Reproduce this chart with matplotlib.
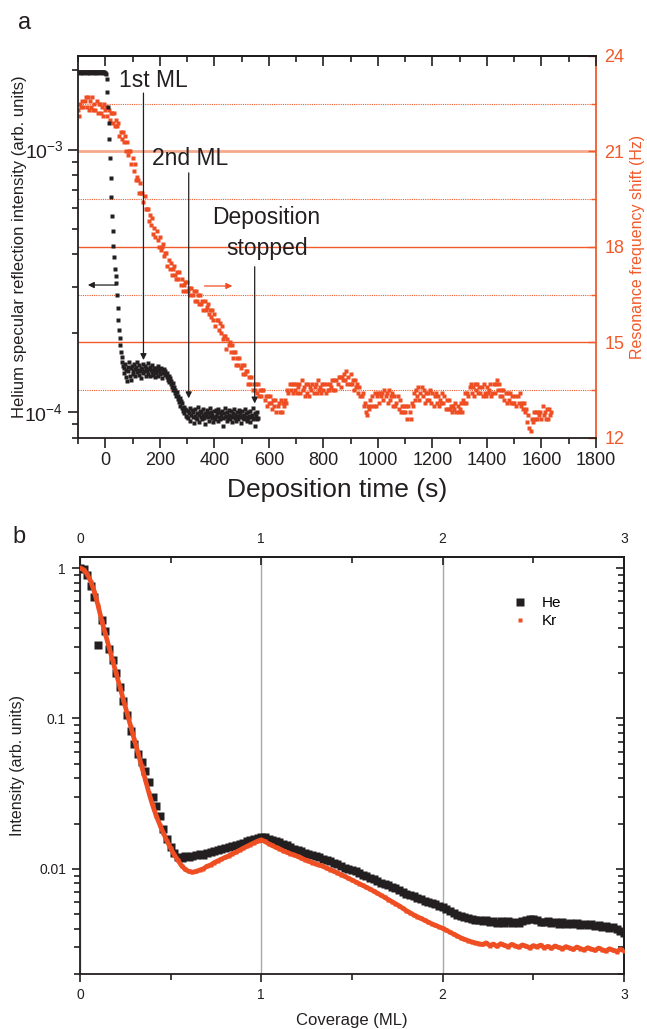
import numpy as np
import matplotlib
matplotlib.use("Agg")
import matplotlib.pyplot as plt
from matplotlib.ticker import FixedLocator, MultipleLocator, LogLocator, NullFormatter
from matplotlib.lines import Line2D

plt.rcParams['font.family'] = ['Liberation Sans', 'DejaVu Sans']
plt.rcParams['mathtext.fontset'] = 'custom'
plt.rcParams['mathtext.rm'] = 'Liberation Sans'
plt.rcParams['mathtext.it'] = 'Liberation Sans:italic'

INK = '#231F20'
ORANGE = '#EF4E22'
AX_ORANGE = '#F15A2B'

# ---- panel a: He reflection (left axis) and QCM shift (right axis) ----
he_time = np.arange(-100, 560.1, 2.5)      # s, one reading every 2.5 s
he_refl = np.array([
    # before deposition
    19.7, 19.8, 19.7, 19.6, 19.7, 19.8, 19.7, 19.7, 19.6, 19.7,
    19.8, 19.7, 19.7, 19.6, 19.7, 19.8, 19.7, 19.6, 19.7, 19.7,
    19.7, 19.8, 19.7, 19.6, 19.7, 19.7, 19.8, 19.7, 19.6, 19.7,
    19.7, 19.8, 19.7, 19.7, 19.6, 19.7, 19.8, 19.7, 19.7, 19.6,
    # fast drop, 0 .. 65 s
    19.6, 19.4, 18.5, 16.5, 14.5, 12.6, 11.0, 9.3, 7.8, 6.6,
    5.6, 4.9, 4.3, 3.9, 3.5, 3.3, 3.1, 2.8, 2.5, 2.25,
    2.05, 1.92, 1.80, 1.70, 1.62, 1.55, 1.50,
    # first-layer plateau
    1.48, 1.41, 1.52, 1.36, 1.45, 1.31, 1.49, 1.43, 1.55, 1.38,
    1.47, 1.33, 1.50, 1.44, 1.40, 1.53, 1.46, 1.37, 1.49, 1.42,
    1.56, 1.45, 1.39, 1.51, 1.43, 1.48, 1.35, 1.46, 1.52, 1.41,
    1.44, 1.50, 1.38, 1.47, 1.43, 1.54, 1.40, 1.46, 1.49, 1.37,
    1.45, 1.42, 1.51, 1.39, 1.47, 1.44, 1.36, 1.48, 1.41, 1.45,
    1.50, 1.38, 1.43, 1.46, 1.40, 1.47, 1.35, 1.44, 1.41, 1.46,
    1.39, 1.43,
    # second drop
    1.40, 1.36, 1.41, 1.33, 1.37, 1.30, 1.35, 1.28, 1.31, 1.25,
    1.29, 1.22, 1.25, 1.18, 1.22, 1.15, 1.19, 1.12, 1.15, 1.09,
    1.13, 1.06, 1.10, 1.04, 1.08, 1.01, 1.05, 0.99, 1.03, 0.97,
    1.02, 0.96,
    # second-layer plateau
    1.01, 0.95, 0.99, 1.04, 0.93, 0.98, 1.02, 0.96, 1.00, 0.91,
    0.97, 1.03, 0.95, 0.99, 0.94, 1.05, 0.98, 0.92, 1.01, 0.96,
    1.00, 0.94, 0.98, 1.03, 0.95, 0.99, 0.90, 0.97, 1.02, 0.96,
    0.99, 0.93, 1.04, 0.97, 1.00, 0.95, 0.98, 0.92, 1.01, 0.96,
    0.94, 1.02, 0.97, 0.99, 0.93, 1.03, 0.96, 1.00, 0.94, 0.98,
    1.01, 0.95, 0.89, 0.99, 0.96, 1.04, 0.97, 0.93, 1.00, 0.95,
    0.98, 1.02, 0.94, 0.97, 1.01, 0.92, 0.99, 0.96, 1.03, 0.95,
    0.98, 0.93, 1.00, 0.97, 0.94, 1.02, 0.96, 0.99, 0.91, 0.97,
    1.01, 0.95, 0.98, 0.94, 1.03, 0.96, 0.99, 0.93, 1.00, 0.95,
    0.97, 0.92, 1.01, 0.96, 0.98, 0.94, 1.04, 0.95, 0.99, 0.89,
    0.97, 0.94, 1.00, 0.95,
]) * 1e-4

qcm_time = np.arange(-100, 1637, 4)        # s, one reading every 4 s
qcm_shift = [
    22.3, 22.1, 22.5, 22.4, 22.6, 22.4, 22.6, 22.7, 22.4, 22.7,
    22.3, 22.6, 22.4, 22.7, 22.3, 22.5, 22.3, 22.6, 22.2, 22.5,
    22.5, 22.2, 22.4, 22.1, 22.5, 22.3, 22.4, 22.1, 22.3, 22.0,
    22.2, 22.2, 21.9, 22.2, 21.8, 22.0, 21.8, 21.9, 21.5, 21.6,
    21.4, 21.6, 21.3, 21.5, 21.0, 21.3, 20.9, 21.0, 21.0, 20.6,
    20.8, 20.4, 20.6, 20.1, 20.2, 20.1, 19.7, 20.0, 19.7, 19.7,
    19.4, 19.6, 19.2, 19.2, 19.2, 18.8, 19.0, 18.7, 18.9, 18.4,
    18.6, 18.3, 18.5, 18.2, 18.0, 18.3, 17.9, 18.0, 18.1, 17.7,
    17.8, 17.8, 17.4, 17.6, 17.3, 17.5, 17.1, 17.3, 17.4, 17.1,
    17.0, 17.2, 17.0, 17.2, 16.8, 17.0, 16.6, 16.8, 16.9, 16.6,
    16.9, 16.6, 16.7, 16.5, 16.7, 16.5, 16.6, 16.3, 16.6, 16.3,
    16.5, 16.2, 16.5, 16.2, 16.3, 16.0, 16.3, 16.0, 16.1, 16.2,
    15.9, 16.0, 15.8, 16.0, 15.7, 15.9, 15.5, 15.7, 15.7, 15.4,
    15.6, 15.3, 15.5, 15.1, 15.2, 15.2, 14.8, 15.1, 14.9, 15.0,
    14.7, 14.9, 14.5, 14.7, 14.7, 14.3, 14.5, 14.3, 14.5, 14.2,
    14.3, 14.0, 14.3, 14.0, 14.1, 14.1, 13.7, 13.9, 13.7, 13.9,
    13.5, 13.7, 13.5, 13.7, 13.4, 13.7, 13.3, 13.5, 13.3, 13.5,
    13.5, 13.2, 13.3, 13.0, 13.3, 13.1, 13.3, 13.1, 12.9, 13.2,
    13.0, 13.2, 12.8, 13.0, 13.1, 12.8, 13.2, 12.8, 13.1, 13.0,
    13.2, 13.1, 13.5, 13.4, 13.7, 13.5, 13.7, 13.4, 13.7, 13.5,
    13.7, 13.4, 13.6, 13.7, 13.4, 13.8, 13.5, 13.6, 13.3, 13.7,
    13.4, 13.7, 13.3, 13.6, 13.5, 13.7, 13.4, 13.6, 13.7, 13.4,
    13.8, 13.5, 13.6, 13.4, 13.7, 13.5, 13.7, 13.4, 13.7, 13.5,
    13.5, 13.7, 13.6, 13.8, 13.5, 13.8, 13.5, 13.8, 13.7, 13.9,
    13.9, 13.6, 13.9, 13.8, 14.0, 13.8, 14.1, 13.7, 13.9, 13.7,
    14.0, 13.7, 13.8, 13.5, 13.8, 13.6, 13.7, 13.4, 13.6, 13.3,
    13.3, 13.4, 13.0, 13.1, 12.8, 12.7, 13.0, 12.9, 13.2, 13.0,
    13.3, 13.0, 13.4, 13.0, 13.3, 13.4, 13.1, 13.4, 13.3, 13.4,
    13.2, 13.5, 13.3, 13.4, 13.1, 13.5, 13.2, 13.3, 13.4, 13.0,
    13.3, 13.0, 13.1, 13.3, 12.9, 13.2, 12.8, 13.0, 12.8, 13.0,
    12.8, 13.0, 12.6, 13.0, 12.8, 12.6, 13.1, 13.0, 13.4, 13.2,
    13.5, 13.3, 13.6, 13.2, 13.4, 13.6, 13.3, 13.5, 13.1, 13.4,
    13.2, 13.4, 13.2, 13.5, 13.1, 13.4, 13.0, 13.3, 13.4, 13.1,
    13.3, 13.0, 13.2, 13.1, 13.4, 13.1, 13.3, 12.9, 13.2, 12.9,
    13.2, 12.9, 13.0, 12.8, 13.0, 12.9, 13.1, 12.8, 13.0, 12.8,
    12.9, 13.1, 12.8, 13.2, 13.1, 13.4, 13.1, 13.4, 13.3, 13.6,
    13.7, 13.4, 13.6, 13.3, 13.7, 13.5, 13.7, 13.4, 13.6, 13.4,
    13.6, 13.3, 13.7, 13.4, 13.3, 13.6, 13.4, 13.5, 13.7, 13.3,
    13.4, 13.7, 13.4, 13.7, 13.8, 13.5, 13.7, 13.3, 13.5, 13.3,
    13.5, 13.2, 13.4, 13.1, 13.4, 13.2, 13.4, 13.1, 13.3, 13.1,
    13.1, 13.3, 13.0, 13.3, 13.1, 13.4, 13.0, 13.1, 12.9, 13.1,
    12.8, 12.9, 12.5, 12.7, 12.3, 12.2, 12.6, 12.5, 12.8, 12.6,
    12.8, 12.6, 12.8, 12.7, 12.8, 12.6, 13.0, 12.7, 12.8, 12.6,
    12.9, 12.6, 12.9, 12.7, 12.8,
]

# ---- panel b: normalised intensity vs coverage ----
coverage = np.round(np.arange(0, 3.001, 0.02), 2)   # ML
he_int = [
    1.00, 0.98, 0.90, 0.76, 0.64, 0.31, 0.45, 0.38, 0.29, 0.245,
    0.20, 0.163, 0.130, 0.106, 0.083, 0.068, 0.058, 0.051, 0.045, 0.038,
    0.030, 0.026, 0.0225, 0.0185, 0.0158, 0.0140, 0.0128, 0.0120, 0.0118, 0.0121,
    0.0119, 0.0122, 0.0123, 0.0125, 0.0124, 0.0127, 0.0129, 0.0131, 0.0133, 0.0135,
    0.0137, 0.0139, 0.0141, 0.0143, 0.0146, 0.0149, 0.0152, 0.0155, 0.0158, 0.0161,
    0.0163, 0.0162, 0.0159, 0.0156, 0.0153, 0.0150, 0.0146, 0.0143, 0.0140, 0.0136,
    0.0133, 0.0131, 0.0128, 0.0126, 0.0123, 0.0121, 0.0119, 0.0117, 0.0114, 0.0112,
    0.0109, 0.0107, 0.0104, 0.0102, 0.0100, 0.00980, 0.00960, 0.00935, 0.00915, 0.00895,
    0.00870, 0.00850, 0.00830, 0.00810, 0.00795, 0.00775, 0.00760, 0.00740, 0.00720, 0.00700,
    0.00685, 0.00670, 0.00655, 0.00642, 0.00630, 0.00615, 0.00602, 0.00590, 0.00580, 0.00570,
    0.00560, 0.00540, 0.00525, 0.00510, 0.00495, 0.00485, 0.00478, 0.00470, 0.00465, 0.00460,
    0.00455, 0.00448, 0.00460, 0.00442, 0.00451, 0.00436, 0.00447, 0.00439, 0.00452, 0.00433,
    0.00445, 0.00438, 0.00449, 0.00456, 0.00462, 0.00467, 0.00455, 0.00446, 0.00441, 0.00449,
    0.00437, 0.00443, 0.00432, 0.00440, 0.00429, 0.00436, 0.00427, 0.00434, 0.00424, 0.00431,
    0.00421, 0.00428, 0.00416, 0.00423, 0.00412, 0.00418, 0.00405, 0.00410, 0.00398, 0.00385,
    0.00372,
]
kr_int = [
    1.000, 0.977, 0.912, 0.813, 0.692, 0.562, 0.447, 0.365, 0.298, 0.243,
    0.199, 0.162, 0.132, 0.108, 0.0883, 0.0721, 0.0589, 0.0481, 0.0393, 0.0321,
    0.0266, 0.0226, 0.0197, 0.0173, 0.0153, 0.0137, 0.0124, 0.0114, 0.0105, 0.00993,
    0.00962, 0.00951, 0.00960, 0.00982, 0.0100, 0.0104, 0.0106, 0.0110, 0.0113, 0.0116,
    0.0119, 0.0122, 0.0126, 0.0129, 0.0133, 0.0137, 0.0141, 0.0145, 0.0149, 0.0153,
    0.0156, 0.0152, 0.0147, 0.0143, 0.0139, 0.0136, 0.0132, 0.0129, 0.0126, 0.0124,
    0.0121, 0.0118, 0.0115, 0.0113, 0.0110, 0.0108, 0.0106, 0.0104, 0.0101, 0.00989,
    0.00964, 0.00940, 0.00916, 0.00891, 0.00867, 0.00843, 0.00820, 0.00798, 0.00776, 0.00755,
    0.00733, 0.00711, 0.00689, 0.00667, 0.00646, 0.00625, 0.00605, 0.00586, 0.00568, 0.00547,
    0.00527, 0.00511, 0.00494, 0.00481, 0.00468, 0.00455, 0.00443, 0.00431, 0.00421, 0.00411,
    0.00402, 0.00391, 0.00379, 0.00368, 0.00358, 0.00348, 0.00340, 0.00333, 0.00327, 0.00322,
    0.00318, 0.00314, 0.00322, 0.00309, 0.00316, 0.00305, 0.00318, 0.00311, 0.00303, 0.00314,
    0.00308, 0.00301, 0.00312, 0.00306, 0.00298, 0.00309, 0.00303, 0.00311, 0.00299, 0.00305,
    0.00296, 0.00307, 0.00300, 0.00294, 0.00304, 0.00298, 0.00291, 0.00302, 0.00295, 0.00289,
    0.00299, 0.00293, 0.00287, 0.00297, 0.00290, 0.00284, 0.00294, 0.00288, 0.00282, 0.00291,
    0.00286,
]

fig = plt.figure(figsize=(6.47, 10.29), dpi=100)

# ================= panel a =================
ax = fig.add_axes([0.1206, 0.5746, 0.8006, 0.371])
ax2 = ax.twinx()
ax.set_zorder(ax2.get_zorder() + 1)
ax.patch.set_visible(False)

# right axis: frequency shift, with its reference lines
ax2.set_ylim(12, 24)
for v in [15, 18]:
    ax2.axhline(v, color=AX_ORANGE, lw=1.0, zorder=0)
ax2.axhline(21, color='#F6A98C', lw=2.0, zorder=0)
for v in [13.5, 16.5, 19.5, 22.5]:
    ax2.axhline(v, color=AX_ORANGE, lw=0.8, ls=(0, (1, 1)), zorder=0)
ax2.plot(qcm_time, qcm_shift, 's', ms=2.3, mec='none', color=ORANGE)
ax2.yaxis.set_major_locator(FixedLocator([12, 15, 18, 21, 24]))
ax2.yaxis.set_minor_locator(MultipleLocator(1.5))
ax2.tick_params(axis='y', which='both', colors=AX_ORANGE, direction='in',
                labelsize=13, pad=6)
ax2.tick_params(axis='y', which='major', length=6, width=1)
ax2.tick_params(axis='y', which='minor', length=3.5, width=1)
for s in ['left', 'top', 'bottom']:
    ax2.spines[s].set_visible(False)
ax2.spines['right'].set_color(AX_ORANGE)
ax2.spines['right'].set_linewidth(1.3)
ax2.set_ylabel('Resonance frequency shift (Hz)', color=AX_ORANGE, fontsize=11.5)
ax2.yaxis.set_label_coords(1.066, 0.5)

# left axis: He reflection
ax.plot(he_time, he_refl, 's', ms=2.2, mec='none', color=INK)
ax.set_yscale('log')
ax.set_ylim(8.0e-5, 2.27e-3)
ax.set_xlim(-100, 1800)
ax.xaxis.set_major_locator(MultipleLocator(200))
ax.xaxis.set_minor_locator(MultipleLocator(100))
ax.yaxis.set_major_locator(FixedLocator([1e-4, 1e-3]))
ax.set_yticklabels([r'$\mathregular{10^{-4}}$', r'$\mathregular{10^{-3}}$'])
ax.yaxis.set_minor_locator(LogLocator(base=10, subs=np.arange(2, 10)))
ax.yaxis.set_minor_formatter(NullFormatter())
ax.tick_params(axis='both', which='both', direction='out', colors=INK,
               labelsize=13, width=1.2)
ax.tick_params(which='major', length=7)
ax.tick_params(which='minor', length=4)
ax.tick_params(axis='y', labelsize=14)
ax.spines['right'].set_visible(False)
for s in ['left', 'top', 'bottom']:
    ax.spines[s].set_linewidth(1.3)
    ax.spines[s].set_color(INK)
top_a = ax.secondary_xaxis('top')
top_a.xaxis.set_major_locator(MultipleLocator(200))
top_a.xaxis.set_minor_locator(MultipleLocator(100))
top_a.tick_params(which='both', direction='in', labeltop=False, width=1.2,
                  colors=INK)
top_a.tick_params(which='major', length=7)
top_a.tick_params(which='minor', length=4)
top_a.spines['top'].set_linewidth(1.3)

ax.set_xlabel('Deposition time (s)', fontsize=19, color=INK, labelpad=6)
ax.set_ylabel('Helium specular reflection intensity (arb. units)', fontsize=12,
              color=INK)
ax.yaxis.set_label_coords(-0.098, 0.5)

arrow_kw = dict(arrowstyle='-|>', color=INK, lw=0.9, mutation_scale=9,
                shrinkA=0, shrinkB=0)
ax.annotate('', xy=(140, 1.58e-4), xytext=(140, 1.64e-3), arrowprops=arrow_kw)
ax.text(177, 1.83e-3, '1st ML', ha='center', va='center', fontsize=16.5, color=INK)
ax.annotate('', xy=(306, 1.13e-4), xytext=(306, 8.15e-4), arrowprops=arrow_kw)
ax.text(312, 9.24e-4, '2nd ML', ha='center', va='center', fontsize=16.5, color=INK)
ax.annotate('', xy=(548, 1.08e-4), xytext=(548, 3.58e-4), arrowprops=arrow_kw)
ax.text(592, 4.81e-4, 'Deposition\nstopped', ha='center', va='center',
        fontsize=16.5, color=INK, linespacing=1.45)
ax.annotate('', xy=(-64, 3.05e-4), xytext=(40, 3.05e-4), arrowprops=arrow_kw)
ax2.annotate('', xy=(466, 16.77), xytext=(364, 16.77),
             arrowprops=dict(arrow_kw, color=ORANGE))

# ================= panel b =================
bx = fig.add_axes([0.1236, 0.0535, 0.8408, 0.4055])
for v in [0, 1, 2]:
    bx.axvline(v, color='#A8A8A8', lw=1.0, zorder=0)
bx.plot(coverage, he_int, 's', ms=5.8, mec='none', color=INK, zorder=2)
bx.plot(coverage, kr_int, '-', color=ORANGE, lw=3.4, marker='s', ms=2.8,
        mec='none', zorder=3)
bx.set_yscale('log')
bx.set_xlim(0, 3)
bx.set_ylim(0.002, 1.19)
bx.xaxis.set_major_locator(FixedLocator([0, 1, 2, 3]))
bx.xaxis.set_minor_locator(FixedLocator([0.5, 1.5, 2.5]))
bx.yaxis.set_major_locator(FixedLocator([0.01, 0.1, 1]))
bx.set_yticklabels(['0.01', '0.1', '1'])
bx.yaxis.set_minor_locator(LogLocator(base=10, subs=np.arange(2, 10)))
bx.yaxis.set_minor_formatter(NullFormatter())
bx.tick_params(which='both', direction='out', labelsize=10, colors=INK, width=1.2)
bx.tick_params(which='major', length=6, pad=4)
bx.tick_params(which='minor', length=4)
for s in bx.spines.values():
    s.set_linewidth(1.3)
    s.set_color(INK)

top_b = bx.secondary_xaxis('top')
top_b.xaxis.set_major_locator(FixedLocator([0, 1, 2, 3]))
top_b.xaxis.set_minor_locator(FixedLocator([0.5, 1.5, 2.5]))
top_b.set_xticklabels(['0', '1', '2', '3'])
top_b.tick_params(which='both', direction='in', labelsize=10, colors=INK,
                  width=1.2, pad=8)
top_b.tick_params(which='major', length=6)
top_b.tick_params(which='minor', length=4)
top_b.spines['top'].set_linewidth(1.3)

right_b = bx.secondary_yaxis('right')
right_b.yaxis.set_major_locator(FixedLocator([0.01, 0.1, 1]))
right_b.yaxis.set_minor_locator(LogLocator(base=10, subs=np.arange(2, 10)))
right_b.yaxis.set_major_formatter(NullFormatter())
right_b.yaxis.set_minor_formatter(NullFormatter())
right_b.tick_params(which='both', direction='in', width=1.2, colors=INK)
right_b.tick_params(which='major', length=6)
right_b.tick_params(which='minor', length=4)
right_b.spines['right'].set_linewidth(1.3)

bx.set_xlabel('Coverage (ML)', fontsize=12, color=INK, labelpad=8)
bx.set_ylabel('Intensity (arb. units)', fontsize=11.5, color=INK)
bx.yaxis.set_label_coords(-0.101, 0.5)

handles = [Line2D([], [], ls='none', marker='s', ms=5.8, mec='none', color=INK),
           Line2D([], [], ls='none', marker='s', ms=2.2, mec='none', color=ORANGE)]
bx.legend(handles, ['He', 'Kr'], loc='upper left', bbox_to_anchor=(0.795, 0.905),
          frameon=False, fontsize=11, handlelength=1.0, handletextpad=0.9,
          labelspacing=0.25, borderpad=0, borderaxespad=0)

fig.text(0.028, 0.978, 'a', fontsize=17, va='center', color=INK)
fig.text(0.019, 0.478, 'b', fontsize=17, va='center', color=INK)

fig.savefig('out.png', dpi=100)
